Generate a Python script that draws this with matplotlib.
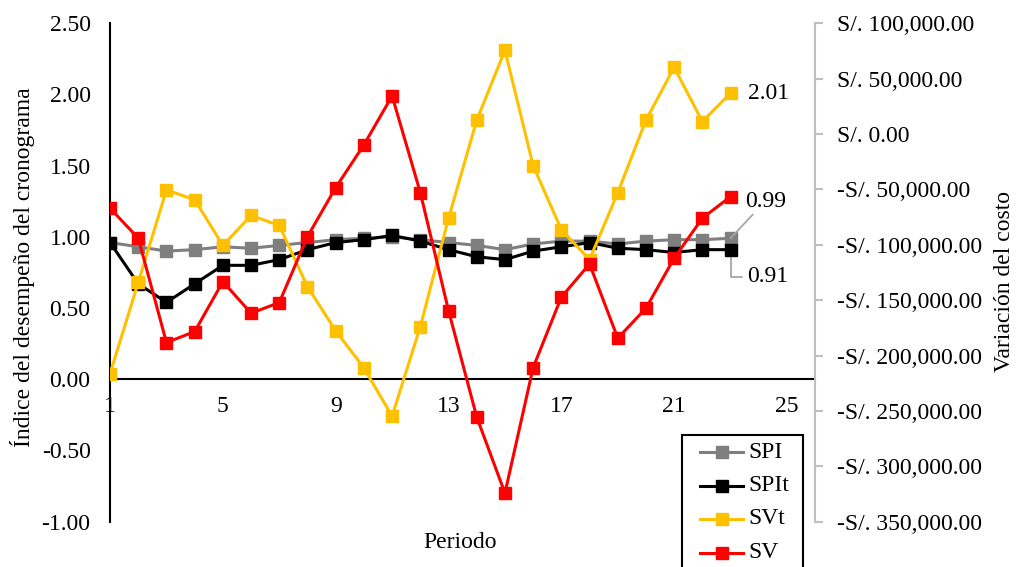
import matplotlib.pyplot as plt
from matplotlib.ticker import FuncFormatter, MultipleLocator
from matplotlib.lines import Line2D
from matplotlib.patches import Rectangle

plt.rcParams['font.family'] = ['Liberation Serif', 'DejaVu Serif']
plt.rcParams['font.size'] = 17

periodos = list(range(1, 24))
spi = [0.96, 0.93, 0.90, 0.91, 0.93, 0.92, 0.94, 0.96, 0.98, 0.99, 1.00, 0.98,
       0.96, 0.94, 0.91, 0.95, 0.97, 0.97, 0.95, 0.97, 0.98, 0.98, 0.99]
spit = [0.96, 0.67, 0.54, 0.67, 0.80, 0.80, 0.84, 0.91, 0.96, 0.98, 1.01, 0.97,
        0.91, 0.86, 0.84, 0.90, 0.93, 0.96, 0.92, 0.91, 0.89, 0.91, 0.91]
svt = [0.04, 0.68, 1.33, 1.26, 0.94, 1.15, 1.08, 0.65, 0.34, 0.08, -0.26, 0.37,
       1.13, 1.82, 2.31, 1.50, 1.05, 0.84, 1.31, 1.82, 2.19, 1.81, 2.01]
sv = [-67000, -94100, -188300, -178400, -133300, -161800, -152200, -92600,
      -48400, -9800, 34400, -52900, -159400, -255500, -324300, -210900,
      -147300, -117300, -184400, -157300, -112100, -76000, -56500]

series = ['SPI', 'SPIt', 'SVt', 'SV']
colores = ['#7F7F7F', '#000000', '#FFC000', '#FF0000']
c_spi, c_spit, c_svt, c_sv = colores

W, H = 1019, 567
fig = plt.figure(figsize=(W / 100, H / 100), dpi=100)
ax = fig.add_axes([0.108, 0.080, 0.692, 0.879])
ax2 = ax.twinx()

style = dict(marker='s', markersize=8, linewidth=2.2)
ax.plot(periodos, spi, color=c_spi, zorder=3, **style)
ax.plot(periodos, spit, color=c_spit, zorder=4, **style)
ax.plot(periodos, svt, color=c_svt, zorder=5, **style)
ax2.plot(periodos, sv, color=c_sv, zorder=5, **style)

# left axis: schedule indices
ax.set_xlim(1, 26)
ax.set_ylim(-1.0, 2.5)
ax.yaxis.set_major_locator(MultipleLocator(0.5))
ax.yaxis.set_major_formatter(FuncFormatter(lambda v, p: f'{v:.2f}'))
ax.set_xticks([1, 5, 9, 13, 17, 21, 25])
ax.spines['bottom'].set_position(('data', 0))
for s in ['top', 'right']:
    ax.spines[s].set_visible(False)
ax.spines['left'].set_linewidth(1.5)
ax.spines['bottom'].set_linewidth(1.5)
ax.tick_params(axis='y', length=0, pad=14, labelsize=17)
ax.tick_params(axis='x', length=0, pad=12, labelsize=17)

# right axis: cost variance
ax2.set_ylim(-350000, 100000)
ax2.yaxis.set_major_locator(MultipleLocator(50000))


def soles(v, p):
    s = f'S/. {abs(v):,.2f}'
    return '-' + s if v < 0 else s


ax2.yaxis.set_major_formatter(FuncFormatter(soles))
for s in ['top', 'left', 'bottom']:
    ax2.spines[s].set_visible(False)
ax2.spines['right'].set_color('#BFBFBF')
ax2.spines['right'].set_linewidth(1.5)
ax2.tick_params(axis='y', length=6, width=1.5, color='#BFBFBF', pad=10,
                labelsize=17)

# end-point labels
ax.text(23.6, svt[-1], f'{svt[-1]:.2f}', va='center', ha='left', fontsize=17)
ax.annotate(f'{spi[-1]:.2f}', xy=(periodos[-1], spi[-1]), xytext=(23.5, 1.25),
            va='center', ha='left', fontsize=17,
            arrowprops=dict(arrowstyle='-', color='#A6A6A6', lw=1.3,
                            shrinkA=0, shrinkB=0))
ax.annotate(f'{spit[-1]:.2f}', xy=(periodos[-1], spit[-1]), xytext=(23.6, 0.72),
            va='center', ha='left', fontsize=17,
            arrowprops=dict(arrowstyle='-', color='#A6A6A6', lw=1.3,
                            shrinkA=2, shrinkB=0,
                            connectionstyle='angle,angleA=0,angleB=90,rad=0'))

fig.text(23 / W, 1 - 267 / H, 'Índice del desempeño del cronograma',
         rotation=90, ha='center', va='center', fontsize=17)
fig.text(1005 / W, 1 - 282 / H, 'Variación del costo',
         rotation=90, ha='center', va='center', fontsize=17)
fig.text(460 / W, 1 - 542 / H, 'Periodo', ha='center', va='center',
         fontsize=17)

# legend box (runs off the bottom edge)
fig.add_artist(Rectangle((682 / W, -0.05), (803 - 682) / W, 0.05 + 1 - 435 / H,
                         transform=fig.transFigure, facecolor='white',
                         edgecolor='black', linewidth=1.5, zorder=10))
for i, (nombre, c) in enumerate(zip(series, colores)):
    yy = 1 - (452 + 33.5 * i) / H
    fig.add_artist(Line2D([700 / W, 743 / W], [yy, yy], color=c,
                          linewidth=2.2, transform=fig.transFigure, zorder=11))
    fig.add_artist(Line2D([721.5 / W], [yy], color=c, marker='s',
                          markersize=8, transform=fig.transFigure, zorder=12))
    fig.text(748 / W, yy, nombre, ha='left', va='center', fontsize=17,
             zorder=12)

fig.savefig('out.png', dpi=100)
